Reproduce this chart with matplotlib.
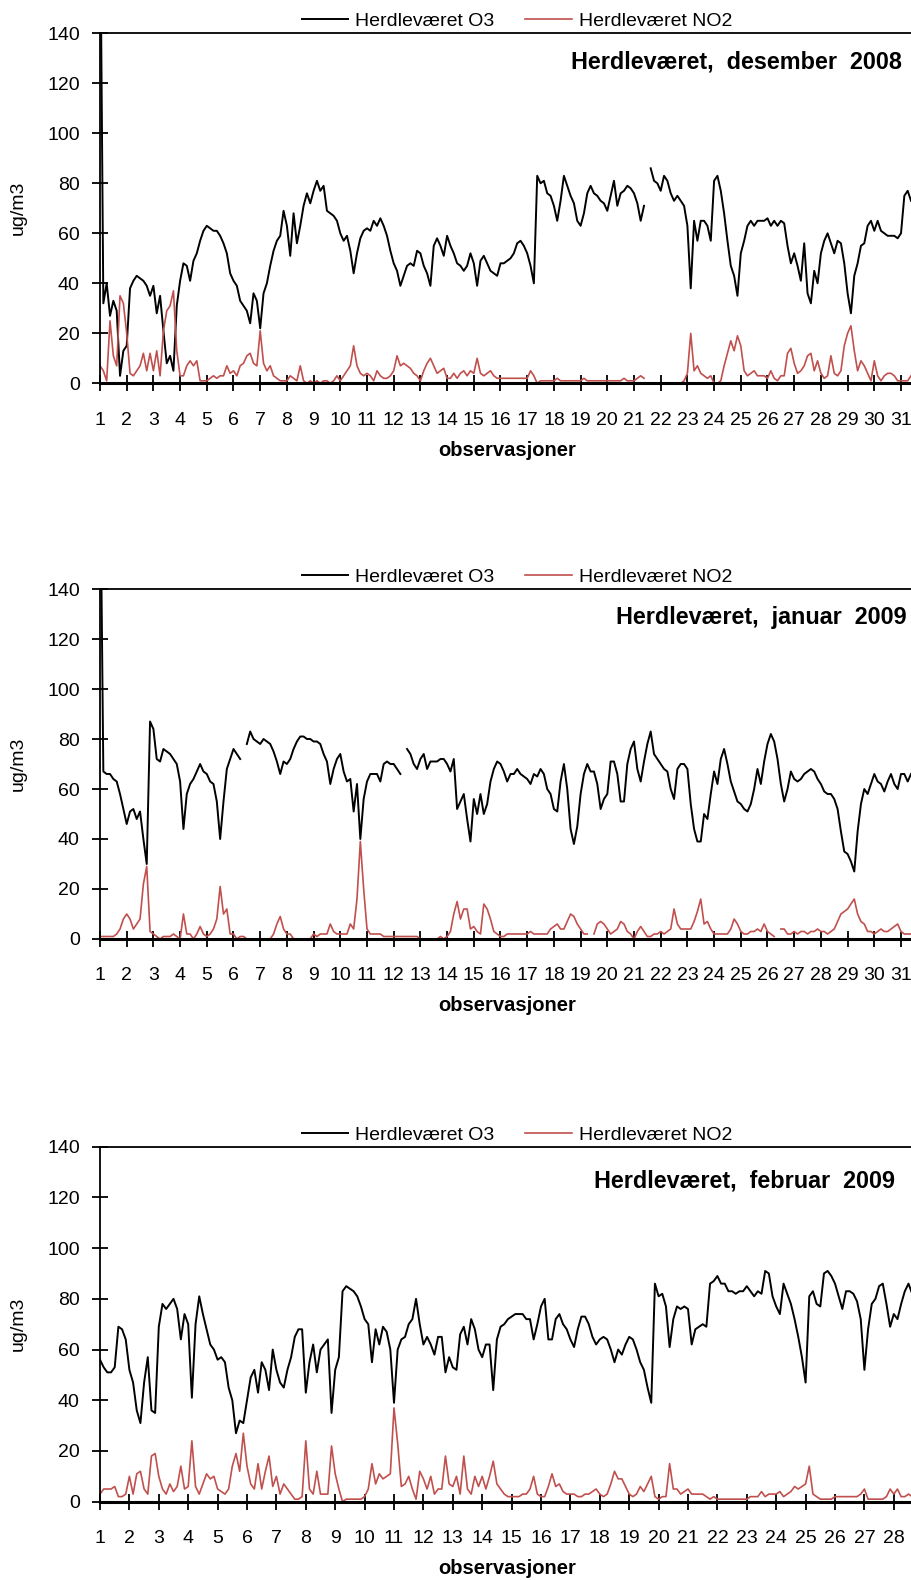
import numpy as np
import matplotlib
matplotlib.use("Agg")
from matplotlib import pyplot as plt

plt.rcParams['font.family'] = ['Liberation Sans', 'DejaVu Sans']

# avlest hver 3. time (observasjon = time i måneden)
step = 3
nan = np.nan

des_o3 = [200, 32, 40, 27, 33, 29, 3, 13, 15, 38,
          41, 43, 42, 41, 39, 35, 39, 28, 35, 21,
          8, 11, 5, 31, 41, 48, 47, 41, 49, 52,
          57, 61, 63, 62, 61, 61, 59, 56, 52, 44,
          41, 39, 33, 31, 29, 24, 36, 33, 22, 36,
          40, 47, 53, 57, 59, 69, 63, 51, 68, 56,
          63, 71, 76, 72, 77, 81, 77, 79, 69, 68,
          67, 65, 60, 57, 59, 53, 44, 52, 58, 61,
          62, 61, 65, 63, 66, 63, 59, 53, 48, 45,
          39, 43, 47, 48, 47, 53, 52, 47, 44, 39,
          55, 58, 55, 51, 59, 55, 52, 48, 47, 45,
          47, 52, 48, 39, 49, 51, 48, 45, 44, 43,
          48, 48, 49, 50, 52, 56, 57, 55, 52, 47,
          40, 83, 80, 81, 76, 75, 71, 65, 73, 83,
          79, 75, 72, 65, 63, 68, 76, 79, 76, 75,
          73, 72, 69, 75, 81, 71, 76, 77, 79, 78,
          76, 72, 65, 71, nan, 86, 81, 80, 77, 83,
          81, 76, 73, 75, 73, 71, 63, 38, 65, 57,
          65, 65, 63, 57, 81, 83, 77, 68, 57, 47,
          43, 35, 52, 57, 63, 65, 63, 65, 65, 65,
          66, 63, 65, 63, 65, 64, 55, 48, 52, 47,
          41, 56, 36, 32, 45, 40, 52, 57, 60, 56,
          52, 57, 56, 48, 36, 28, 43, 48, 55, 56,
          63, 65, 61, 65, 61, 60, 59, 59, 59, 58,
          60, 75, 77, 73]
des_no2 = [7, 5, 1, 25, 11, 7, 35, 32, 20, 4,
           3, 5, 7, 12, 5, 12, 5, 13, 3, 21,
           29, 31, 37, 13, 3, 3, 7, 9, 7, 9,
           1, 1, 1, 2, 3, 2, 3, 3, 7, 4,
           5, 3, 7, 8, 11, 12, 8, 7, 21, 8,
           5, 7, 3, 2, 1, 1, 1, 3, 2, 1,
           7, 1, 0, 1, 0, 1, 0, 1, 1, 0,
           1, 3, 1, 3, 5, 7, 15, 7, 4, 3,
           4, 3, 1, 5, 3, 2, 2, 3, 5, 11,
           7, 8, 7, 6, 4, 3, 1, 5, 8, 10,
           7, 4, 5, 6, 2, 2, 4, 2, 4, 5,
           3, 5, 4, 10, 4, 3, 4, 5, 3, 2,
           2, 2, 2, 2, 2, 2, 2, 2, 2, 5,
           3, 0, 1, 1, 1, 1, 1, 2, 1, 1,
           1, 1, 1, 1, 1, 2, 1, 1, 1, 1,
           1, 1, 1, 1, 1, 1, 1, 2, 1, 1,
           1, 2, 3, 2, nan, 0, 0, 0, 0, 0,
           0, 0, 0, 0, 0, 1, 4, 20, 5, 7,
           4, 3, 2, 3, 0, 0, 1, 7, 12, 17,
           13, 19, 15, 5, 3, 4, 5, 3, 3, 3,
           2, 5, 2, 1, 3, 3, 12, 14, 8, 4,
           5, 7, 11, 12, 5, 9, 4, 2, 3, 11,
           4, 3, 5, 15, 20, 23, 13, 5, 9, 7,
           4, 1, 9, 3, 1, 3, 4, 4, 3, 1,
           1, 1, 1, 3]

jan_o3 = [200, 67, 66, 66, 64, 63, 58, 52, 46, 51,
          52, 48, 51, 40, 30, 87, 84, 72, 71, 76,
          75, 74, 72, 70, 63, 44, 58, 62, 64, 67,
          70, 67, 66, 63, 62, 55, 40, 55, 68, 72,
          76, 74, 72, nan, 78, 83, 80, 79, 78, 80,
          79, 78, 75, 71, 66, 71, 70, 72, 76, 79,
          81, 81, 80, 80, 79, 79, 78, 74, 71, 62,
          68, 72, 74, 67, 63, 64, 51, 62, 40, 56,
          63, 66, 66, 66, 63, 70, 71, 70, 70, 68,
          66, nan, 76, 74, 70, 68, 72, 74, 68, 71,
          71, 71, 72, 72, 70, 67, 72, 52, 55, 58,
          48, 39, 56, 50, 58, 50, 54, 63, 68, 71,
          70, 67, 63, 66, 66, 68, 66, 65, 64, 62,
          66, 65, 68, 66, 60, 58, 52, 51, 63, 70,
          60, 44, 38, 45, 58, 66, 70, 67, 67, 62,
          52, 56, 58, 71, 71, 66, 55, 55, 70, 76,
          79, 68, 63, 71, 78, 83, 74, 72, 70, 68,
          67, 60, 56, 68, 70, 70, 68, 54, 44, 39,
          39, 50, 48, 58, 67, 62, 72, 76, 70, 63,
          59, 55, 54, 52, 51, 54, 60, 68, 62, 71,
          78, 82, 79, 72, 62, 55, 60, 67, 64, 63,
          64, 66, 67, 68, 67, 64, 62, 59, 58, 58,
          56, 52, 43, 35, 34, 31, 27, 43, 54, 60,
          58, 62, 66, 63, 62, 59, 63, 66, 62, 60,
          66, 66, 63, 66]
jan_no2 = [1, 1, 1, 1, 1, 2, 4, 8, 10, 8,
           4, 6, 8, 22, 29, 3, 2, 1, 0, 1,
           1, 1, 2, 1, 0, 10, 2, 2, 0, 2,
           5, 2, 1, 2, 4, 8, 21, 10, 12, 2,
           2, 0, 1, 1, 0, 0, 0, 0, 0, 0,
           0, 0, 2, 6, 9, 4, 2, 2, 0, 0,
           0, 0, 0, 0, 2, 1, 2, 2, 2, 6,
           3, 2, 2, 2, 2, 6, 4, 16, 39, 20,
           4, 2, 2, 2, 2, 1, 1, 1, 1, 1,
           1, 1, 1, 1, 1, 1, 0, 0, 0, 0,
           0, 0, 1, 0, 1, 3, 10, 15, 8, 12,
           12, 4, 5, 3, 2, 14, 12, 8, 3, 2,
           1, 1, 2, 2, 2, 2, 2, 2, 2, 3,
           2, 2, 2, 2, 2, 4, 5, 6, 4, 4,
           7, 10, 9, 6, 4, 2, 2, nan, 2, 6,
           7, 6, 4, 2, 3, 4, 7, 6, 3, 2,
           0, 3, 5, 3, 1, 1, 2, 2, 3, 2,
           3, 4, 12, 6, 4, 4, 4, 4, 7, 11,
           16, 6, 7, 4, 2, 2, 2, 2, 2, 4,
           8, 6, 3, 2, 2, 3, 3, 4, 3, 6,
           3, 2, 1, nan, 4, 4, 2, 2, 3, 2,
           3, 3, 2, 3, 3, 4, 3, 3, 2, 3,
           4, 7, 10, 11, 12, 14, 16, 10, 7, 6,
           3, 3, 2, 3, 4, 3, 3, 4, 5, 6,
           3, 2, 2, 2]

feb_o3 = [56, 53, 51, 51, 53, 69, 68, 64, 52, 47,
          36, 31, 47, 57, 36, 35, 69, 78, 76, 78,
          80, 76, 64, 74, 70, 41, 70, 81, 74, 68,
          62, 60, 56, 57, 55, 45, 40, 27, 32, 31,
          40, 49, 52, 43, 55, 52, 44, 60, 52, 47,
          45, 52, 57, 65, 68, 68, 43, 55, 62, 51,
          60, 62, 64, 35, 52, 57, 83, 85, 84, 83,
          81, 77, 72, 70, 55, 68, 62, 69, 67, 60,
          39, 60, 64, 65, 70, 72, 80, 70, 62, 65,
          62, 58, 65, 65, 51, 57, 53, 52, 66, 69,
          62, 72, 68, 60, 57, 62, 62, 44, 64, 69,
          70, 72, 73, 74, 74, 74, 72, 72, 64, 70,
          77, 80, 64, 64, 72, 74, 70, 68, 64, 61,
          68, 73, 73, 70, 65, 62, 64, 65, 64, 60,
          55, 60, 58, 62, 65, 64, 60, 55, 52, 45,
          39, 86, 81, 82, 77, 61, 72, 77, 76, 77,
          76, 62, 68, 69, 70, 69, 86, 87, 89, 86,
          86, 83, 83, 82, 83, 83, 85, 83, 81, 83,
          82, 91, 90, 81, 77, 74, 86, 82, 78, 72,
          65, 57, 47, 81, 83, 78, 77, 90, 91, 89,
          86, 81, 76, 83, 83, 82, 79, 72, 52, 68,
          78, 80, 85, 86, 78, 69, 74, 72, 78, 83,
          86, 82]
feb_no2 = [3, 5, 5, 5, 6, 2, 2, 3, 10, 3,
           11, 12, 5, 3, 18, 19, 10, 5, 3, 7,
           4, 6, 14, 5, 6, 24, 6, 3, 7, 11,
           9, 10, 5, 4, 3, 5, 14, 19, 12, 27,
           14, 7, 5, 15, 5, 12, 18, 6, 10, 3,
           7, 5, 3, 1, 1, 2, 24, 5, 3, 12,
           3, 3, 3, 22, 11, 5, 0, 1, 1, 1,
           1, 1, 2, 5, 15, 7, 11, 9, 10, 11,
           37, 23, 6, 7, 10, 5, 1, 12, 9, 5,
           10, 3, 5, 5, 18, 7, 6, 10, 3, 18,
           5, 3, 10, 6, 10, 5, 10, 16, 7, 5,
           3, 2, 2, 2, 2, 3, 3, 5, 10, 3,
           2, 2, 6, 11, 6, 7, 4, 3, 3, 3,
           2, 2, 3, 3, 4, 5, 3, 2, 3, 7,
           12, 9, 9, 6, 3, 2, 3, 6, 4, 7,
           10, 2, 1, 2, 2, 15, 5, 5, 3, 4,
           5, 3, 3, 3, 3, 2, 1, 2, 1, 1,
           1, 1, 1, 1, 1, 1, 1, 2, 2, 2,
           4, 2, 3, 3, 3, 4, 2, 3, 4, 6,
           5, 6, 7, 14, 3, 2, 1, 1, 1, 1,
           2, 2, 2, 2, 2, 2, 2, 3, 5, 1,
           1, 1, 1, 1, 2, 5, 3, 5, 2, 2,
           3, 2]

maneder = [
    # data O3, NO2, dager, tittel, topp(px), bunn(px), px per time, tittel (x,y)
    (des_o3, des_no2, 31, 'Herdleværet,  desember  2008', 33.3, 383.3, 1.1125, (902, 62)),
    (jan_o3, jan_no2, 31, 'Herdleværet,  januar  2009', 589.0, 939.0, 1.1125, (907, 617)),
    (feb_o3, feb_no2, 28, 'Herdleværet,  februar  2009', 1146.7, 1501.7, 1.225, (895, 1181)),
]

W, H = 912, 1580
fig = plt.figure(figsize=(W / 100, H / 100), dpi=100)
rod = '#C0504D'

for o3, no2, dager, tittel, topp, bunn, pxt, (tx, ty) in maneder:
    timer = dager * 24
    ax = fig.add_axes([100 / W, 1 - bunn / H, timer * pxt / W, (bunn - topp) / H])
    t = np.arange(len(o3)) * step
    ax.plot(t, o3, color='black', lw=1.4, label='Herdleværet O3')
    ax.plot(t, no2, color=rod, lw=1.2, label='Herdleværet NO2')
    ax.set_xlim(0, timer)
    ax.set_ylim(0, 140)
    ax.set_xticks(np.arange(dager) * 24)
    ax.set_xticklabels([str(d + 1) for d in range(dager)])
    ax.set_yticks(np.arange(0, 141, 20))
    ax.tick_params(axis='x', direction='inout', length=11, width=1.3, labelsize=14, pad=15)
    ax.tick_params(axis='y', direction='inout', length=11, width=1.3, labelsize=14, pad=9)
    ax.spines['right'].set_visible(False)
    ax.spines['top'].set_linewidth(1.3)
    ax.spines['left'].set_linewidth(1.3)
    ax.spines['bottom'].set_linewidth(2.2)

    fig.text(tx / W, 1 - ty / H, tittel, ha='right', va='center', fontsize=16.8, fontweight='bold')
    fig.text(18 / W, 1 - (topp + bunn) / 2 / H, 'ug/m3', rotation=90, ha='center', va='center', fontsize=14)
    fig.text(507 / W, 1 - (bunn + 67) / H, 'observasjoner', ha='center', va='center',
             fontsize=14.5, fontweight='bold')
    ax.legend(loc='center', bbox_to_anchor=(517 / W, 1 - (topp - 12) / H), bbox_transform=fig.transFigure,
              ncol=2, frameon=False, fontsize=14, handlelength=2.4, handletextpad=0.35,
              columnspacing=1.6, borderpad=0, borderaxespad=0)

fig.savefig('out.png', dpi=100)
